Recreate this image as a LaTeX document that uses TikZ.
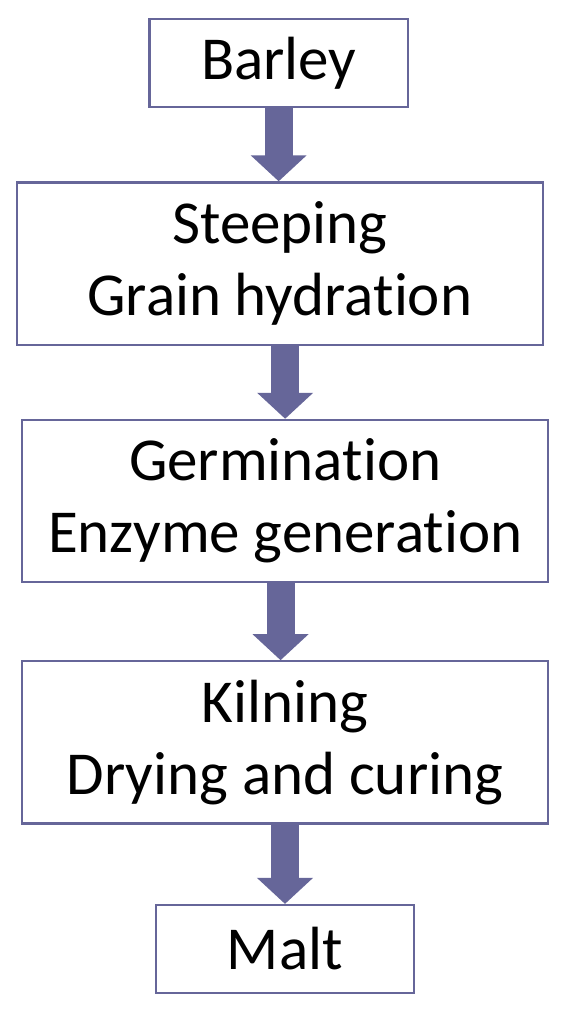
\documentclass[tikz,border=0pt]{standalone}
\usepackage{fontspec}
\setmainfont{Carlito}[Ligatures=NoCommon]
\usetikzlibrary{arrows.meta}
\definecolor{flowc}{RGB}{102,102,153}
\begin{document}
\begin{tikzpicture}[x=1pt,y=-1pt,
  box/.style={draw=flowc, line width=2.2pt, fill=white, inner sep=0pt, align=center,
    font=\fontsize{61}{72}\selectfont},
  smallbox/.style={box, minimum width=258.5pt, minimum height=87.7pt},
  bigbox/.style={box, minimum width=526pt, minimum height=162.2pt},
  flow/.style={draw=flowc, line width=28pt, line cap=butt,
    -{Triangle[width=54.5pt,length=26pt]}}]
\useasboundingbox (0,0) rectangle (572,1014);
\fill[white] (0,0) rectangle (572,1014);
\node[smallbox] (barley) at (278.65,62.85) {Barley};
\node[bigbox] (steep) at (279.85,263.5) {Steeping\\Grain hydration};
\node[bigbox] (germ) at (285.15,501) {Germination\\Enzyme generation};
\node[bigbox] (kiln) at (285,742.4) {Kilning\\Drying and curing};
\node[smallbox] (malt) at (284.85,948.85) {Malt};
\draw[flow] (barley.south) -- (barley.south |- steep.north);
\draw[flow] (germ.north |- steep.south) -- (germ.north);
\draw[flow] ([xshift=-4.6pt]germ.south) -- ([xshift=-4.6pt]germ.south |- kiln.north);
\draw[flow] (kiln.south) -- (kiln.south |- malt.north);
\end{tikzpicture}
\end{document}
